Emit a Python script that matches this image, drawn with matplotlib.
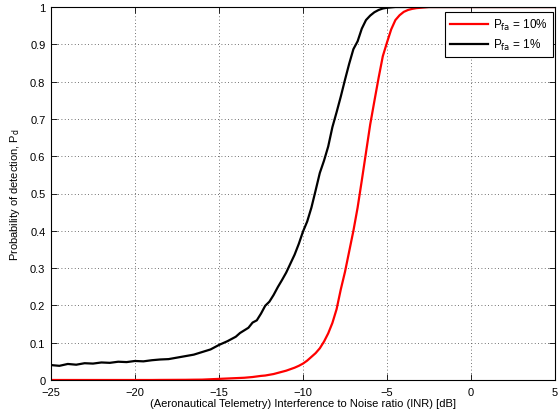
import matplotlib
matplotlib.use("Agg")
import matplotlib.pyplot as plt
from matplotlib.ticker import FixedLocator

plt.rcParams['font.family'] = ['Liberation Sans', 'DejaVu Sans']
plt.rcParams['font.size'] = 8
plt.rcParams['axes.unicode_minus'] = True

# INR grid [dB] and detection probabilities for the two false-alarm rates
inr_db = [-25, -24.5, -24, -23.5, -23, -22.5, -22, -21.5, -21, -20.5, -20,
          -19.5, -19, -18.5, -18, -17.5, -17, -16.5, -16, -15.5, -15,
          -14.5, -14, -13.75, -13.5, -13.25, -13, -12.75, -12.5, -12.25,
          -12, -11.75, -11.5, -11.25, -11, -10.75, -10.5, -10.25, -10,
          -9.75, -9.5, -9.25, -9, -8.75, -8.5, -8.25, -8, -7.75, -7.5,
          -7.25, -7, -6.75, -6.5, -6.25, -6, -5.75, -5.5, -5.25, -5,
          -4.75, -4.5, -4.25, -4, -3.75, -3.5, -3.25, -3, -2.5, -2, -1,
          0, 1, 2, 3, 4, 5]

pd_pfa10 = [0.0, 0.0, 0.0, 0.0, 0.0, 0.0, 0.0, 0.0, 0.0, 0.0, 0.0,
            0.0, 0.0, 0.0002, 0.0003, 0.0004, 0.0005, 0.0008, 0.001, 0.002, 0.003,
            0.004, 0.005, 0.0055, 0.006, 0.007, 0.008, 0.0095, 0.011, 0.012,
            0.014, 0.016, 0.019, 0.022, 0.025, 0.029, 0.033, 0.038, 0.044,
            0.052, 0.062, 0.072, 0.085, 0.103, 0.125, 0.153, 0.190, 0.243, 0.290,
            0.345, 0.400, 0.462, 0.535, 0.610, 0.685, 0.748, 0.810, 0.868, 0.905,
            0.940, 0.965, 0.978, 0.987, 0.992, 0.995, 0.997, 0.998, 1.0, 1.0, 1.0,
            1.0, 1.0, 1.0, 1.0, 1.0, 1.0]

pd_pfa1 = [0.040, 0.038, 0.043, 0.041, 0.045, 0.044, 0.047, 0.046, 0.049, 0.048, 0.051,
           0.050, 0.053, 0.055, 0.056, 0.060, 0.064, 0.068, 0.075, 0.082, 0.094,
           0.104, 0.116, 0.126, 0.133, 0.140, 0.154, 0.160, 0.178, 0.199,
           0.210, 0.228, 0.249, 0.268, 0.288, 0.312, 0.336, 0.365, 0.398,
           0.425, 0.462, 0.508, 0.555, 0.588, 0.626, 0.678, 0.718, 0.760, 0.805,
           0.848, 0.887, 0.908, 0.942, 0.965, 0.977, 0.986, 0.992, 0.996, 0.998,
           0.999, 1.0, 1.0, 1.0, 1.0, 1.0, 1.0, 1.0, 1.0, 1.0, 1.0,
           1.0, 1.0, 1.0, 1.0, 1.0, 1.0]

x_ticks = [-25, -20, -15, -10, -5, 0, 5]
y_ticks = [0, 0.1, 0.2, 0.3, 0.4, 0.5, 0.6, 0.7, 0.8, 0.9, 1]
y_tick_labels = ['0', '0.1', '0.2', '0.3', '0.4', '0.5', '0.6', '0.7', '0.8', '0.9', '1']

fig = plt.figure(figsize=(5.58, 4.14), dpi=100)
ax = fig.add_axes([51 / 558, 33 / 414, 504 / 558, 373 / 414])

ax.plot(inr_db, pd_pfa10, color='#ff0000', lw=1.6, label=r'P$_{\rm fa}$ = 10%')
ax.plot(inr_db, pd_pfa1, color='black', lw=1.6, label=r'P$_{\rm fa}$ = 1%')

ax.set_xlim(-25, 5)
ax.set_ylim(0, 1)
ax.xaxis.set_major_locator(FixedLocator(x_ticks))
ax.set_yticks(y_ticks)
ax.set_yticklabels(y_tick_labels)
ax.tick_params(direction='in', length=4, width=0.6, top=True, right=True)
ax.tick_params(axis='x', pad=5)
ax.tick_params(axis='y', pad=4)
ax.grid(True, linestyle=(0, (1, 3)), color='#444444', linewidth=0.6)
for s in ax.spines.values():
    s.set_linewidth(0.8)

ax.set_xlabel('(Aeronautical Telemetry) Interference to Noise ratio (INR) [dB]', labelpad=1)
ax.set_ylabel(r'Probability of detection, P$_{\rm d}$', labelpad=6)

leg = ax.legend(loc='upper right', bbox_to_anchor=(0.996, 0.987), borderaxespad=0,
                fancybox=False, framealpha=1, edgecolor='black', handlelength=3.2,
                handletextpad=0.4, borderpad=0.45, labelspacing=0.4, fontsize=8.5)
leg.get_frame().set_linewidth(0.8)

fig.savefig('out.png', dpi=100)
